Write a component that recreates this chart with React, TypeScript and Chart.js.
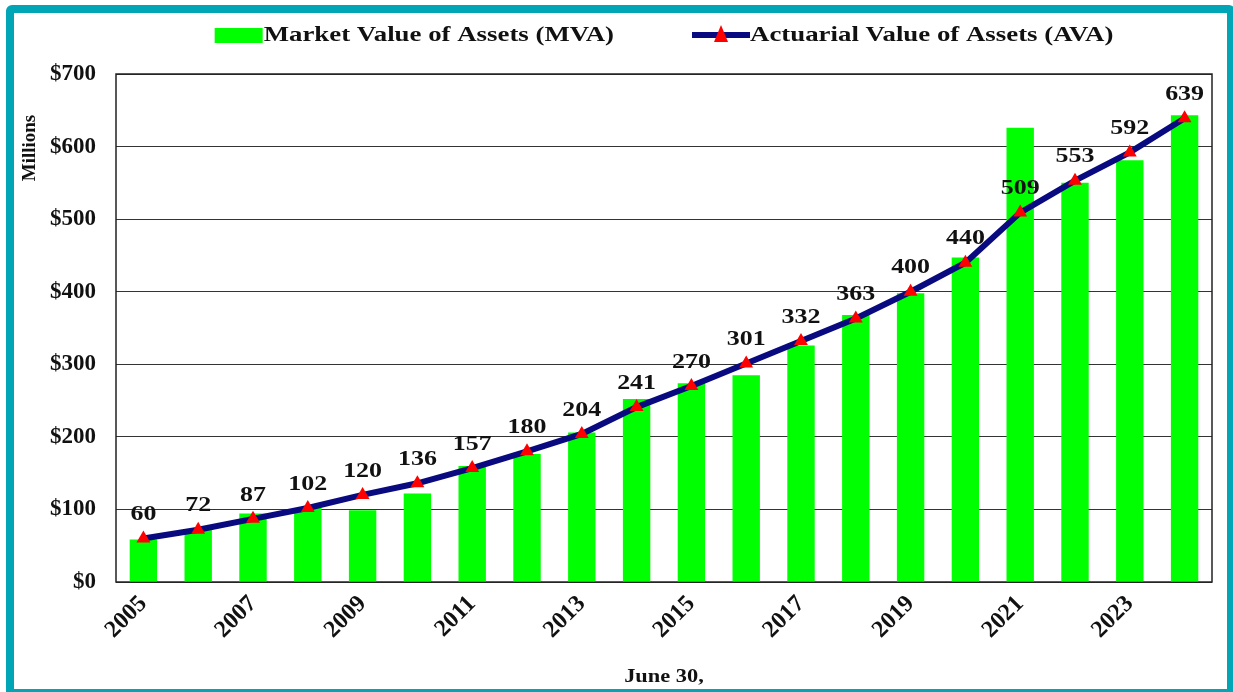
import React, { useEffect, useRef } from "react";
import { Chart, registerables } from "chart.js";

Chart.register(...registerables);

const years = ["2005", "2006", "2007", "2008", "2009", "2010", "2011", "2012", "2013", "2014", "2015", "2016", "2017", "2018", "2019", "2020", "2021", "2022", "2023", "2024"];
const mvaValues = [58.7, 71.5, 94.5, 102, 99, 122, 160, 176.5, 206, 252, 274, 285, 326, 368, 398, 447, 626, 550, 581, 643];
const avaValues = [60, 72, 87, 102, 120, 136, 157, 180, 204, 241, 270, 301, 332, 363, 400, 440, 509, 553, 592, 639];
const yTickValues = [0, 100, 200, 300, 400, 500, 600, 700];
const seriesLabels = ["Market Value of Assets (MVA)", "Actuarial Value of Assets (AVA)"];
const yAxisTitle = "Millions";
const xAxisTitle = "June 30,";

const FONT = "'Liberation Serif', 'Times New Roman', serif";
const GREEN = "#00FF00";
const NAVY = "#0A0A80";
const RED = "#FF0000";
const STRETCH = 1.18;
const LEGEND_STRETCH = 1.22;

function stretchedText(ctx: CanvasRenderingContext2D, text: string, x: number, y: number, align: CanvasTextAlign, sx: number = STRETCH) {
  ctx.save();
  ctx.translate(x, y);
  ctx.scale(sx, 1);
  ctx.textAlign = align;
  ctx.fillText(text, 0, 0);
  ctx.restore();
}

const overlayPlugin = {
  id: "overlay",
  beforeDatasetsDraw(chart: any) {
    const { ctx, chartArea: a } = chart;
    ctx.save();
    ctx.strokeStyle = "#222";
    ctx.lineWidth = 1.5;
    ctx.strokeRect(a.left, a.top, a.right - a.left, a.bottom - a.top);
    ctx.restore();
  },
  afterDatasetsDraw(chart: any) {
    const { ctx } = chart;
    const meta = chart.getDatasetMeta(1);
    ctx.save();
    ctx.fillStyle = "#111";
    ctx.font = `bold 22px ${FONT}`;
    ctx.textBaseline = "middle";
    meta.data.forEach((pt: any, i: number) => {
      stretchedText(ctx, String(avaValues[i]), pt.x, pt.y - 24, "center");
    });
    ctx.restore();
  },
  afterDraw(chart: any) {
    const { ctx, chartArea: a } = chart;
    ctx.save();
    // legend
    ctx.font = `bold 22px ${FONT}`;
    ctx.textBaseline = "middle";
    ctx.textAlign = "left";
    const sym = 49;
    const gap = 78;
    const w0 = sym + ctx.measureText(seriesLabels[0]).width * LEGEND_STRETCH;
    const w1 = sym + 9 + ctx.measureText(seriesLabels[1]).width * LEGEND_STRETCH;
    const total = w0 + gap + w1;
    let x = (a.left + a.right) / 2 - total / 2;
    const ly = 35;
    ctx.fillStyle = GREEN;
    ctx.fillRect(x, ly - 7, sym - 1, 15);
    ctx.fillStyle = "#111";
    stretchedText(ctx, seriesLabels[0], x + sym, ly, "left", LEGEND_STRETCH);
    x += w0 + gap;
    ctx.strokeStyle = NAVY;
    ctx.lineWidth = 6;
    ctx.beginPath();
    ctx.moveTo(x, ly);
    ctx.lineTo(x + sym + 9, ly);
    ctx.stroke();
    ctx.fillStyle = RED;
    const cx = x + (sym + 9) / 2;
    ctx.beginPath();
    ctx.moveTo(cx, ly - 10);
    ctx.lineTo(cx + 7, ly + 7);
    ctx.lineTo(cx - 7, ly + 7);
    ctx.closePath();
    ctx.fill();
    ctx.fillStyle = "#111";
    stretchedText(ctx, seriesLabels[1], x + sym + 9, ly, "left", LEGEND_STRETCH);
    // axis titles
    ctx.font = `bold 19px ${FONT}`;
    stretchedText(ctx, xAxisTitle, (a.left + a.right) / 2, 677, "center");
    ctx.translate(30, 148);
    ctx.rotate(-Math.PI / 2);
    ctx.textAlign = "center";
    ctx.fillText(yAxisTitle, 0, 0);
    ctx.restore();
  },
};

export default function App() {
  const ref = useRef<HTMLCanvasElement>(null);
  useEffect(() => {
    if (!ref.current) return;
    const chart = new Chart(ref.current, {
      type: "bar",
      data: {
        labels: years,
        datasets: [
          {
            type: "bar",
            label: seriesLabels[0],
            data: mvaValues,
            backgroundColor: GREEN,
            barPercentage: 0.5,
            categoryPercentage: 1,
            order: 2,
          },
          {
            type: "line",
            label: seriesLabels[1],
            data: avaValues,
            borderColor: NAVY,
            borderWidth: 6,
            pointStyle: "triangle",
            pointRadius: 8,
            pointBackgroundColor: RED,
            pointBorderColor: RED,
            pointBorderWidth: 0,
            tension: 0,
            order: 1,
          } as any,
        ],
      },
      options: {
        responsive: false,
        animation: false,
        layout: { padding: { top: 74, right: 21, left: 0, bottom: 0 } },
        plugins: { legend: { display: false }, tooltip: { enabled: false } },
        scales: {
          x: {
            grid: { display: false, drawTicks: false },
            border: { display: false },
            afterFit: (s: any) => { s.height = 110; },
            ticks: {
              autoSkip: false,
              maxRotation: 45,
              minRotation: 45,
              padding: 8,
              color: "#111",
              font: { family: FONT, weight: "bold", size: 24 },
              callback: (_v: any, i: number) => (i % 2 === 0 ? years[i] : ""),
            },
          },
          y: {
            min: 0,
            max: 700,
            afterFit: (s: any) => { s.width = 116; },
            afterBuildTicks: (s: any) => { s.ticks = yTickValues.map((v) => ({ value: v })); },
            grid: { color: "#333", lineWidth: 1, drawTicks: false },
            border: { display: false },
            ticks: {
              padding: 20,
              color: "#111",
              font: { family: FONT, weight: "bold", size: 23 },
              callback: (v: any) => "$" + v,
            },
          },
        },
      },
      plugins: [overlayPlugin],
    });
    return () => chart.destroy();
  }, []);
  return (
    <div style={{ position: "absolute", left: 0, top: 0, width: 1233, height: 692, overflow: "hidden", background: "#fff" }}>
      <div
        style={{
          position: "absolute",
          left: 6,
          top: 5,
          width: 1229,
          height: 692,
          boxSizing: "border-box",
          border: "8px solid #00A5B6",
          borderRadius: 6,
          background: "#fff",
        }}
      />
      <canvas ref={ref} width={1233} height={692} style={{ position: "absolute", left: 0, top: 0 }} />
    </div>
  );
}
